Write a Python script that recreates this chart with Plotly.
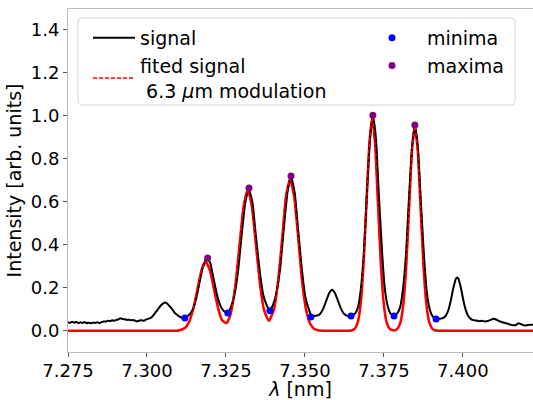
import plotly.graph_objects as go

# ---------------- data ----------------
signal_wl = [7.2750, 7.2757, 7.2763, 7.2770, 7.2776, 7.2783, 7.2790, 7.2796, 7.2803, 7.2810,
             7.2816, 7.2823, 7.2830, 7.2836, 7.2843, 7.2850, 7.2856, 7.2863, 7.2870, 7.2876,
             7.2883, 7.2890, 7.2896, 7.2903, 7.2910, 7.2916, 7.2923, 7.2930, 7.2936, 7.2943,
             7.2950, 7.2956, 7.2963, 7.2970, 7.2976, 7.2983, 7.2990, 7.2996, 7.3003, 7.3010,
             7.3017, 7.3023, 7.3030, 7.3037, 7.3043, 7.3050, 7.3056, 7.3062, 7.3068, 7.3075,
             7.3082, 7.3088, 7.3095, 7.3102, 7.3109, 7.3116, 7.3123, 7.3134, 7.3145, 7.3156,
             7.3167, 7.3178, 7.3189, 7.3200, 7.3211, 7.3222, 7.3233, 7.3244, 7.3255, 7.3265,
             7.3276, 7.3288, 7.3299, 7.3311, 7.3322, 7.3334, 7.3345, 7.3357, 7.3368, 7.3380,
             7.3389, 7.3399, 7.3410, 7.3422, 7.3433, 7.3445, 7.3456, 7.3468, 7.3479, 7.3491,
             7.3502, 7.3514, 7.3521, 7.3532, 7.3541, 7.3550, 7.3559, 7.3568, 7.3577, 7.3586,
             7.3595, 7.3604, 7.3613, 7.3622, 7.3631, 7.3640, 7.3649, 7.3658, 7.3668, 7.3677,
             7.3687, 7.3696, 7.3706, 7.3715, 7.3725, 7.3734, 7.3744, 7.3753, 7.3763, 7.3772,
             7.3782, 7.3791, 7.3801, 7.3810, 7.3820, 7.3829, 7.3839, 7.3848, 7.3858, 7.3867,
             7.3877, 7.3886, 7.3896, 7.3905, 7.3915, 7.3922, 7.3930, 7.3938, 7.3946, 7.3954,
             7.3962, 7.3970, 7.3978, 7.3982, 7.3986, 7.3994, 7.4002, 7.4010, 7.4018, 7.4026,
             7.4034, 7.4043, 7.4052, 7.4061, 7.4070, 7.4079, 7.4088, 7.4096, 7.4105, 7.4114,
             7.4123, 7.4133, 7.4142, 7.4150, 7.4160, 7.4168, 7.4175, 7.4185, 7.4195, 7.4205,
             7.4215, 7.4222]
signal_int = [0.040, 0.036, 0.042, 0.037, 0.041, 0.035, 0.039, 0.036, 0.040, 0.035,
              0.037, 0.034, 0.038, 0.036, 0.039, 0.035, 0.040, 0.043, 0.042, 0.046,
              0.045, 0.048, 0.046, 0.050, 0.053, 0.058, 0.054, 0.053, 0.050, 0.051,
              0.048, 0.050, 0.046, 0.043, 0.047, 0.049, 0.046, 0.051, 0.055, 0.058,
              0.066, 0.077, 0.090, 0.104, 0.116, 0.125, 0.131, 0.128, 0.120, 0.108,
              0.095, 0.083, 0.074, 0.066, 0.061, 0.059, 0.063, 0.074, 0.099, 0.151,
              0.228, 0.303, 0.335, 0.316, 0.241, 0.164, 0.114, 0.090, 0.082, 0.107,
              0.161, 0.271, 0.434, 0.593, 0.662, 0.594, 0.437, 0.275, 0.167, 0.115,
              0.094, 0.120, 0.177, 0.295, 0.472, 0.645, 0.718, 0.638, 0.460, 0.276,
              0.153, 0.092, 0.067, 0.069, 0.071, 0.082, 0.106, 0.141, 0.175, 0.190,
              0.175, 0.141, 0.106, 0.082, 0.071, 0.067, 0.070, 0.078, 0.109, 0.194,
              0.371, 0.633, 0.891, 1.000, 0.891, 0.633, 0.371, 0.194, 0.109, 0.078,
              0.070, 0.078, 0.107, 0.188, 0.356, 0.605, 0.850, 0.955, 0.845, 0.598,
              0.346, 0.177, 0.095, 0.065, 0.056, 0.055, 0.056, 0.059, 0.070, 0.095,
              0.141, 0.199, 0.241, 0.247, 0.241, 0.197, 0.138, 0.092, 0.066, 0.054,
              0.049, 0.047, 0.044, 0.046, 0.043, 0.045, 0.050, 0.055, 0.052, 0.045,
              0.040, 0.036, 0.033, 0.028, 0.025, 0.026, 0.034, 0.030, 0.024, 0.026,
              0.028, 0.027]

fit_wl = [7.2750, 7.3090, 7.3100, 7.3121, 7.3134, 7.3147, 7.3160, 7.3173, 7.3186, 7.3199,
          7.3212, 7.3225, 7.3238, 7.3251, 7.3260, 7.3267, 7.3280, 7.3293, 7.3306, 7.3319,
          7.3332, 7.3345, 7.3358, 7.3371, 7.3386, 7.3402, 7.3415, 7.3428, 7.3440, 7.3453,
          7.3466, 7.3479, 7.3491, 7.3504, 7.3517, 7.3530, 7.3542, 7.3555, 7.3641, 7.3650,
          7.3659, 7.3668, 7.3677, 7.3686, 7.3695, 7.3704, 7.3713, 7.3722, 7.3731, 7.3740,
          7.3749, 7.3758, 7.3767, 7.3776, 7.3781, 7.3785, 7.3794, 7.3803, 7.3812, 7.3821,
          7.3830, 7.3839, 7.3848, 7.3857, 7.3866, 7.3875, 7.3884, 7.3893, 7.3902, 7.3911,
          7.3920, 7.4222]
fit_int = [0.000, 0.000, 0.001, 0.014, 0.043, 0.104, 0.194, 0.282, 0.320, 0.282,
           0.194, 0.105, 0.048, 0.035, 0.056, 0.091, 0.213, 0.397, 0.578, 0.655,
           0.578, 0.397, 0.214, 0.093, 0.046, 0.099, 0.229, 0.428, 0.622, 0.705,
           0.622, 0.428, 0.229, 0.095, 0.031, 0.008, 0.002, 0.000, 0.000, 0.002,
           0.011, 0.043, 0.133, 0.320, 0.597, 0.869, 0.990, 0.869, 0.597, 0.320,
           0.133, 0.043, 0.011, 0.003, 0.002, 0.002, 0.011, 0.042, 0.129, 0.309,
           0.576, 0.838, 0.950, 0.838, 0.576, 0.309, 0.129, 0.042, 0.011, 0.002,
           0.000, 0.000]

minima_wl = [7.3120, 7.3256, 7.3389, 7.3519, 7.3646, 7.3782, 7.3915]
minima_int = [0.059, 0.082, 0.092, 0.064, 0.068, 0.068, 0.054]
maxima_wl = [7.3192, 7.3323, 7.3456, 7.3715, 7.3848]
maxima_int = [0.338, 0.663, 0.718, 1.000, 0.955]

x_ticks = [7.275, 7.300, 7.325, 7.350, 7.375, 7.400]
y_ticks = [0.0, 0.2, 0.4, 0.6, 0.8, 1.0, 1.2, 1.4]
x_range = [7.275, 7.4222]
y_range = [-0.099, 1.494]

# ---------------- figure ----------------
FONT = "DejaVu Sans"
W, H = 533, 400
ML, MR, MT, MB = 68, 0, 9, 48
PW, PH = W - ML - MR, H - MT - MB

fig = go.Figure()
fig.add_trace(go.Scatter(x=fit_wl, y=fit_int, mode="lines",
                         line=dict(color="#ff0000", width=2.5, shape="spline", smoothing=0.5),
                         showlegend=False, hoverinfo="skip"))
fig.add_trace(go.Scatter(x=signal_wl, y=signal_int, mode="lines", name="signal",
                         line=dict(color="black", width=2, shape="spline", smoothing=0.4),
                         legend="legend", legendgroup="a", legendrank=1))
fig.add_trace(go.Scatter(x=fit_wl, y=fit_int, mode="lines",
                         name="fited signal<br>\u00a06.3 <i>μ</i>m modulation",
                         line=dict(color="#ff0000", width=1.5, dash="4px,2px",
                                   shape="spline", smoothing=0.5),
                         legend="legend", legendgroup="b", legendrank=2))
fig.add_trace(go.Scatter(x=minima_wl, y=minima_int, mode="markers", name="minima",
                         marker=dict(color="#0000ff", size=7),
                         legend="legend2", legendgroup="c", legendrank=3))
fig.add_trace(go.Scatter(x=maxima_wl, y=maxima_int, mode="markers", name="maxima",
                         marker=dict(color="#800080", size=7),
                         legend="legend2", legendgroup="d", legendrank=4))

# legend frame (rounded rectangle in paper coordinates)
bx0, bx1 = (78 - ML) / PW, (515 - ML) / PW
by1, by0 = 1 - (18 - MT) / PH, 1 - (105 - MT) / PH
rx, ry = 4 / PW, 4 / PH
path = (f"M {bx0+rx},{by1} L {bx1-rx},{by1} Q {bx1},{by1} {bx1},{by1-ry} "
        f"L {bx1},{by0+ry} Q {bx1},{by0} {bx1-rx},{by0} L {bx0+rx},{by0} "
        f"Q {bx0},{by0} {bx0},{by0+ry} L {bx0},{by1-ry} Q {bx0},{by1} {bx0+rx},{by1} Z")
fig.add_shape(type="path", path=path, xref="paper", yref="paper",
              fillcolor="rgba(255,255,255,0.9)", line=dict(color="#d5d5d5", width=1),
              layer="above")

leg_font = dict(family=FONT, size=19, color="black")
fig.update_layout(
    width=W, height=H,
    margin=dict(l=ML, r=MR, t=MT, b=MB),
    paper_bgcolor="white", plot_bgcolor="white",
    font=dict(family=FONT, size=18, color="black"),
    legend=dict(x=(88 - ML) / PW, y=1 - (19 - MT) / PH, xanchor="left", yanchor="top",
                bgcolor="rgba(0,0,0,0)", borderwidth=0, font=leg_font,
                itemwidth=42, tracegroupgap=0),
    legend2=dict(x=(357 - ML) / PW, y=1 - (19 - MT) / PH, xanchor="left", yanchor="top",
                 bgcolor="rgba(0,0,0,0)", borderwidth=0, font=leg_font,
                 itemwidth=60, tracegroupgap=0),
    xaxis=dict(range=x_range, tickvals=x_ticks, ticktext=[f"{v:.3f}" for v in x_ticks],
               showline=True, linecolor="#bcbcbc", linewidth=1, mirror=True,
               ticks="outside", ticklen=4, tickcolor="#555555", tickwidth=1,
               ticklabelstandoff=-2,
               showgrid=False, zeroline=False, automargin=False,
               tickfont=dict(family=FONT, size=18, color="black"),
               title=dict(text="<i>λ</i> [nm]", font=dict(family=FONT, size=19), standoff=6)),
    yaxis=dict(range=y_range, tickvals=y_ticks, ticktext=[f"{v:.1f}" for v in y_ticks],
               showline=True, linecolor="#bcbcbc", linewidth=1, mirror=False,
               ticks="outside", ticklen=4, tickcolor="#555555", tickwidth=1,
               showgrid=False, zeroline=False, automargin=False,
               tickfont=dict(family=FONT, size=18, color="black"),
               title=dict(text="Intensity [arb. units]", font=dict(family=FONT, size=19),
                          standoff=4)),
    showlegend=True,
)

fig.write_html("out.html", post_script="document.body.style.margin='0';",
               config={"displayModeBar": False})
